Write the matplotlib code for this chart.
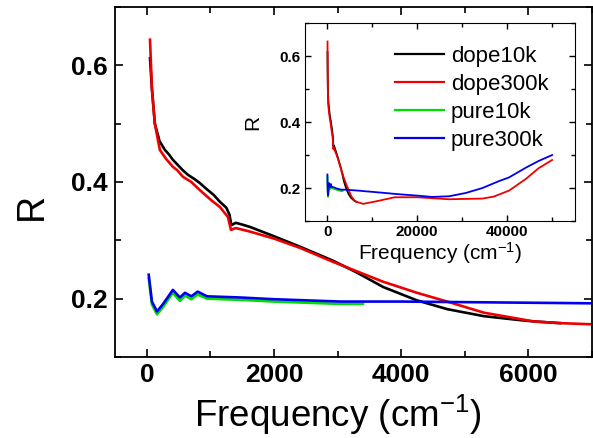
import matplotlib
matplotlib.use("Agg")
import matplotlib.pyplot as plt
from matplotlib.ticker import MultipleLocator

plt.rcParams['font.family'] = ['Liberation Sans', 'DejaVu Sans']
plt.rcParams['mathtext.fontset'] = 'custom'
plt.rcParams['mathtext.rm'] = 'Liberation Sans'
plt.rcParams['mathtext.it'] = 'Liberation Sans:italic'
plt.rcParams['mathtext.bf'] = 'Liberation Sans:bold'

# reflectance spectra (frequency in cm^-1)
dope10k_f = [50, 80, 126, 200, 284, 350, 410, 480, 567, 650, 750, 835, 950, 1050,
             1150, 1250, 1300, 1330, 1400, 1500, 1622, 2000, 2410, 2930, 3300,
             3717, 4250, 4725, 5300, 5800, 6080, 6500]
dope10k_r = [0.612, 0.56, 0.50, 0.47, 0.455, 0.447, 0.438, 0.43, 0.42, 0.412, 0.405,
             0.398, 0.387, 0.378, 0.366, 0.356, 0.344, 0.326, 0.33, 0.327, 0.323,
             0.307, 0.289, 0.265, 0.245, 0.22, 0.197, 0.182, 0.17, 0.164, 0.161, 0.158]

dope300k_f = [50, 80, 126, 205, 300, 410, 480, 567, 700, 835, 1000, 1150, 1276, 1323,
              1400, 1622, 2000, 2410, 2930, 3300, 3717, 4250, 4725, 5300, 6080, 6500,
              7000, 8000, 11000, 15000, 20000, 27000, 34500, 37000, 40400, 44200,
              47000, 50000]
dope300k_r = [0.644, 0.56, 0.50, 0.455, 0.44, 0.426, 0.42, 0.409, 0.40, 0.386, 0.37,
              0.357, 0.34, 0.318, 0.321, 0.315, 0.303, 0.287, 0.263, 0.247, 0.229,
              0.21, 0.195, 0.176, 0.161, 0.158, 0.156, 0.152, 0.160, 0.172, 0.172,
              0.166, 0.168, 0.174, 0.192, 0.228, 0.26, 0.285]

pure10k_f = [30, 80, 160, 250, 410, 520, 600, 700, 800, 945, 1200, 1465, 2000, 2500,
             3040, 3400]
pure10k_r = [0.235, 0.19, 0.173, 0.185, 0.21, 0.196, 0.205, 0.199, 0.207, 0.2, 0.199,
             0.198, 0.195, 0.193, 0.191, 0.191]

pure300k_f = [30, 80, 160, 250, 410, 520, 600, 700, 800, 945, 1200, 1465, 2000, 3040,
              4000, 5000, 6000, 7000, 8600, 12000, 16000, 20000, 23300, 27100, 30800,
              34500, 38200, 40400, 44200, 47000, 50000]
pure300k_r = [0.241, 0.195, 0.178, 0.19, 0.215, 0.202, 0.21, 0.204, 0.212, 0.204,
              0.203, 0.202, 0.199, 0.195, 0.195, 0.194, 0.193, 0.192, 0.19, 0.186,
              0.181, 0.177, 0.173, 0.175, 0.185, 0.2, 0.221, 0.232, 0.262, 0.282, 0.30]

series = [
    ("dope10k", dope10k_f, dope10k_r, "black"),
    ("dope300k", dope300k_f, dope300k_r, "#ee0000"),
    ("pure10k", pure10k_f, pure10k_r, "#00dd00"),
    ("pure300k", pure300k_f, pure300k_r, "#0000ee"),
]

fig = plt.figure(figsize=(5.93, 4.38), dpi=100)
ax = fig.add_axes([0.194, 0.185, 0.804, 0.799])

for name, f, r, c in series:
    ax.plot(f, r, color=c, lw=1.9, label=name)

ax.set_xlim(-500, 7000)
ax.set_ylim(0.1, 0.7)
ax.xaxis.set_major_locator(MultipleLocator(2000))
ax.xaxis.set_minor_locator(MultipleLocator(1000))
ax.yaxis.set_major_locator(MultipleLocator(0.2))
ax.yaxis.set_minor_locator(MultipleLocator(0.1))
ax.tick_params(which='both', direction='in', top=True, right=True, width=1.2)
ax.tick_params(which='major', length=6)
ax.tick_params(which='minor', length=4)
ax.tick_params(axis='x', pad=4)
ax.tick_params(axis='y', pad=5)
for lab in ax.get_xticklabels() + ax.get_yticklabels():
    lab.set_fontsize(19)
    lab.set_fontweight('bold')
for s in ax.spines.values():
    s.set_linewidth(1.3)

ax.set_xlabel("Frequency (cm$^{-1}$)", fontsize=26.5)
ax.xaxis.set_label_coords(0.468, -0.103)
ax.set_ylabel("R", fontsize=27)
ax.yaxis.set_label_coords(-0.136, 0.43)

# inset: full frequency range
ins = fig.add_axes([0.514, 0.4954, 0.455, 0.452])
for name, f, r, c in series:
    ins.plot(f, r, color=c, lw=1.3, label=name)
ins.set_xlim(-5000, 55000)
ins.set_ylim(0.1, 0.7)
ins.xaxis.set_major_locator(MultipleLocator(20000))
ins.xaxis.set_minor_locator(MultipleLocator(10000))
ins.yaxis.set_major_locator(MultipleLocator(0.2))
ins.yaxis.set_minor_locator(MultipleLocator(0.1))
ins.tick_params(which='both', direction='in', top=True, right=True, width=1.0, pad=3)
ins.tick_params(which='major', length=4)
ins.tick_params(which='minor', length=3)
for lab in ins.get_xticklabels() + ins.get_yticklabels():
    lab.set_fontsize(11)
    lab.set_fontweight('bold')
ins.set_xlabel("Frequency (cm$^{-1}$)", fontsize=15, labelpad=1)
ins.set_ylabel("R", fontsize=15, labelpad=12)
leg = ins.legend(loc='upper left', bbox_to_anchor=(0.335, 0.885), fontsize=16,
                 frameon=False, handlelength=2.2, labelspacing=0.32,
                 handletextpad=0.3, borderaxespad=0, borderpad=0)
for h in leg.get_lines():
    h.set_linewidth(1.6)

fig.savefig("out.png", dpi=100)
